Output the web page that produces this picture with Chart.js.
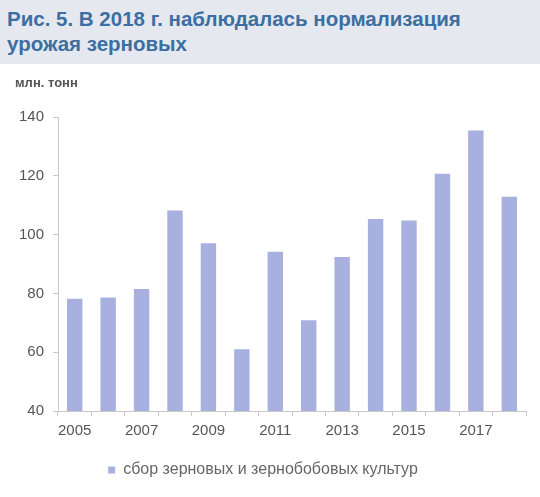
<!DOCTYPE html>
<html lang="ru">
<head>
<meta charset="utf-8">
<script src="https://cdn.jsdelivr.net/npm/chart.js@4"></script>
<style>
  html, body { margin: 0; padding: 0; background: #ffffff; }
  body { width: 540px; height: 497px; position: relative; overflow: hidden; font-family: "Liberation Sans", Arial, sans-serif; }
  #head {
    position: absolute; left: 0; top: 0; width: 540px; height: 64px;
    background: #e5e9ef; box-sizing: border-box; padding: 6px 0 0 7px;
    color: #3b6fa3; font-weight: bold; font-size: 20.5px; line-height: 25px;
  }
  #unit {
    position: absolute; left: 15px; top: 75px; font-size: 13px; color: #555;
    font-weight: bold;
  }
  #wrap { position: absolute; left: 0; top: 0; width: 540px; height: 497px; }
</style>
</head>
<body>
<div id="wrap"><canvas id="c" width="540" height="497"></canvas></div>
<div id="head">Рис. 5. В 2018 г. наблюдалась нормализация<br>урожая зерновых</div>
<div id="unit">млн. тонн</div>
<script>
// Сбор зерновых и зернобобовых культур, млн тонн
const years = ['2005','2006','2007','2008','2009','2010','2011','2012','2013','2014','2015','2016','2017','2018'];
const harvest = [78.2, 78.6, 81.5, 108.2, 97.1, 61.0, 94.2, 70.9, 92.4, 105.3, 104.8, 120.7, 135.4, 112.9];
const seriesName = 'сбор зерновых и зернобобовых культур';
const yMin = 40, yMax = 140, yStep = 20;

const axisColor = '#c8c8c8';
const fontFamily = '"Liberation Sans", Arial, sans-serif';
const tickFont = { family: fontFamily, size: 15 };

new Chart(document.getElementById('c'), {
  type: 'bar',
  data: {
    labels: years,
    datasets: [{
      label: seriesName,
      data: harvest,
      backgroundColor: '#a8b0df',
      borderWidth: 0,
      barPercentage: 0.46,
      categoryPercentage: 1.0
    }]
  },
  options: {
    responsive: false,
    animation: false,
    layout: { padding: { top: 117, left: 0, right: 14, bottom: 9 } },
    plugins: {
      legend: {
        position: 'bottom',
        labels: {
          boxWidth: 7, boxHeight: 7, padding: 16,
          color: '#666', font: { family: fontFamily, size: 16 }
        }
      },
      tooltip: { enabled: false }
    },
    scales: {
      x: {
        offset: true,
        grid: { display: true, drawOnChartArea: false, offset: true, tickLength: 5, color: axisColor },
        border: { color: axisColor },
        ticks: {
          autoSkip: false, maxRotation: 0, color: '#555', font: tickFont, padding: 6,
          callback: (v, i) => (i % 2 === 0 ? years[i] : '')
        }
      },
      y: {
        min: yMin, max: yMax,
        afterFit: (s) => { s.width = 58; },
        grid: { display: true, drawOnChartArea: false, tickLength: 5, color: axisColor },
        border: { color: axisColor },
        ticks: { stepSize: yStep, color: '#555', font: tickFont, padding: 9 }
      }
    }
  }
});
</script>
</body>
</html>
